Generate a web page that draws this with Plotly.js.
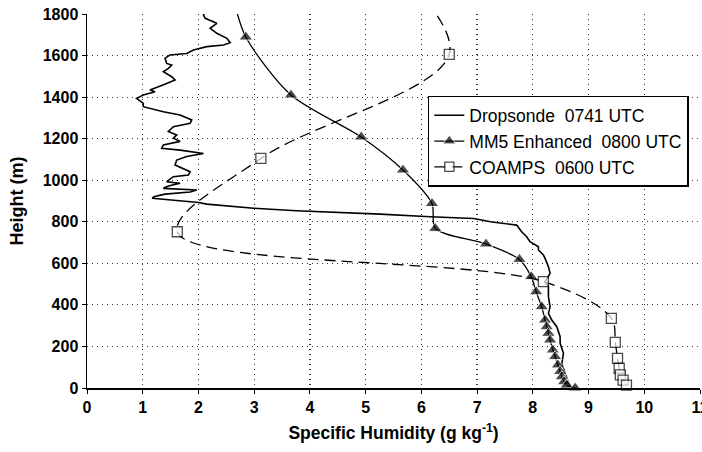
<!DOCTYPE html>
<html>
<head>
<meta charset="utf-8">
<script src="https://cdn.plot.ly/plotly-3.0.1.min.js"></script>
<style>html,body{margin:0;padding:0;background:#fff;}#chart{width:702px;height:452px;}</style>
</head>
<body>
<div id="chart"></div>
<script>
// Dropsonde 0741 UTC (specific humidity g/kg vs height m)
const dropHeight = [1830,1819,1795,1779,1755,1731,1707,1683,1662,1651,1643,1627,1610,1603,1587,1562,1554,1538,1522,1498,1482,1466,1450,1434,1426,1410,1394,1370,1354,1330,1314,1290,1274,1258,1235,1218,1202,1187,1170,1154,1145,1129,1114,1097,1073,1057,1041,1025,1017,993,985,972,961,953,943,933,921,913,907,901,893,885,876,865,853,844,837,824,816,800,784,752,728,704,680,664,640,624,584,552,528,512,488,440,391,359,327,295,247,215,167,119,71,23,7];
const dropQ = [2.16,2.14,2.09,2.12,2.33,2.21,2.33,2.51,2.57,2.45,2.15,1.91,1.79,1.49,1.40,1.43,1.52,1.46,1.37,1.52,1.58,1.43,1.28,1.13,1.22,1.01,0.89,1.01,1.01,1.37,1.67,1.88,1.85,1.55,1.46,1.61,1.55,1.67,1.37,1.34,1.67,2.09,1.79,1.61,1.58,1.73,1.85,1.82,1.55,1.43,1.67,1.46,1.37,1.97,1.85,1.40,1.20,1.17,1.45,1.70,2.00,2.15,2.50,2.99,3.76,4.72,5.26,6.16,6.94,7.24,7.71,7.80,7.89,7.95,8.10,8.10,8.19,8.22,8.28,8.31,8.25,8.22,8.28,8.28,8.31,8.28,8.34,8.43,8.49,8.49,8.55,8.52,8.58,8.64,8.67];

// MM5 Enhanced 0800 UTC
const mm5Height = [1850,1689,1410,1208,1049,888,768,693,619,536,463,391,327,295,263,231,183,151,111,79,54,30,14,0];
const mm5Q = [2.65,2.85,3.66,4.92,5.67,6.19,6.25,7.16,7.76,7.97,8.06,8.16,8.22,8.25,8.28,8.31,8.36,8.40,8.45,8.49,8.52,8.56,8.61,8.76];

// COAMPS 0600 UTC
const coampsHeight = [1980,1606,1105,752,512,335,220,143,95,63,38,14];
const coampsQ = [5.70,6.50,3.12,1.62,8.19,9.41,9.48,9.52,9.55,9.57,9.62,9.68];

const xTicks = [0,1,2,3,4,5,6,7,8,9,10,11];
const yTicks = [0,200,400,600,800,1000,1200,1400,1600,1800];

const FONT = 'Arial, "Liberation Sans", sans-serif';
const nb = '\u00a0';

const traces = [
  {
    x: dropQ, y: dropHeight, type: 'scatter', mode: 'lines',
    name: 'Dropsonde' + nb + nb + '0741 UTC',
    line: {color: '#000', width: 1.6}
  },
  {
    x: mm5Q, y: mm5Height, type: 'scatter', mode: 'lines+markers',
    name: 'MM5 Enhanced' + nb + nb + '0800 UTC',
    line: {color: '#000', width: 1.3, shape: 'spline', smoothing: 0.8},
    marker: {symbol: 'triangle-up', color: '#000', size: mm5Height.map(h => h > 1800 ? 0 : 12)},
    cliponaxis: false
  },
  {
    x: coampsQ, y: coampsHeight, type: 'scatter', mode: 'lines+markers',
    name: 'COAMPS' + nb + nb + '0600 UTC',
    line: {color: '#000', width: 1.3, dash: '11px,6px', shape: 'spline', smoothing: 1},
    marker: {symbol: 'square', color: '#fff', size: coampsHeight.map(h => h > 1800 ? 0 : 10), line: {color: '#000', width: 1.3}},
    cliponaxis: false
  }
];

const gridStyle = {showgrid: true, gridcolor: '#333', griddash: '1px,4px', gridwidth: 1.2};

const layout = {
  width: 702, height: 452,
  margin: {l: 87, r: 2, t: 14, b: 64},
  paper_bgcolor: '#fff', plot_bgcolor: '#fff',
  font: {family: FONT, color: '#000', size: 16},
  showlegend: true,
  legend: {
    x: 0.556, y: 0.781, xanchor: 'left', yanchor: 'top',
    bgcolor: '#fff', bordercolor: '#000', borderwidth: 1.5,
    font: {family: FONT, size: 17.5, color: '#000'}
  },
  xaxis: Object.assign({
    range: [0, 11], tickvals: xTicks, ticktext: xTicks.map(v => '<b>' + v + '</b>'),
    showline: true, linecolor: '#000', linewidth: 1.5,
    ticks: 'outside', ticklen: 4, tickcolor: '#000',
    zeroline: false, ticklabeloverflow: 'allow',
    tickfont: {family: FONT, size: 16, color: '#000'},
    title: {text: '<b>Specific Humidity (g kg<sup>-1</sup>)</b>', font: {family: FONT, size: 17.5, color: '#000'}, standoff: 12}
  }, gridStyle),
  yaxis: Object.assign({
    range: [0, 1800], tickvals: yTicks, ticktext: yTicks.map(v => '<b>' + v + '</b>'),
    showline: true, linecolor: '#000', linewidth: 1.5,
    ticks: 'outside', ticklen: 4, tickcolor: '#000',
    zeroline: false, ticklabeloverflow: 'allow',
    tickfont: {family: FONT, size: 16, color: '#000'},
    title: {text: '<b>Height (m)</b>', font: {family: FONT, size: 18, color: '#000'}, standoff: 14}
  }, gridStyle)
};

Plotly.newPlot('chart', traces, layout, {staticPlot: true, displayModeBar: false});
</script>
</body>
</html>
